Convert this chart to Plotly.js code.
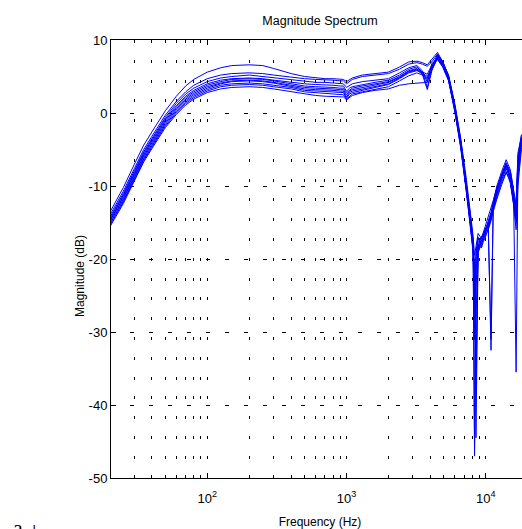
<!DOCTYPE html>
<html>
<head>
<meta charset="utf-8">
<script src="https://cdn.plot.ly/plotly-3.0.1.min.js"></script>
<style>
html,body{margin:0;padding:0;overflow:hidden;background:#fff;}
#chart{width:541px;height:529px;}
</style>
</head>
<body>
<div id="chart"></div>
<script>
// Frequency grid (Hz)
const freq = [20,25,30,35,40,50,60,70,80,100,125,150,200,250,300,400,500,600,700,800,900,950,1000,1050,1100,1300,1600,2000,2400,2800,3200,3500,3800,4100,4500,4900,5400,6000,6600,7200,7800,8100,8300,8500,8800,9300,9800,10400,10900,11300,12000,13000,14000,15000,15800,16500,17000,18000,19000,20000];

// Magnitude (dB) of each measured response
const mag1 = [-13.6,-10.2,-7.0,-4.4,-2.6,0.3,2.3,3.7,4.6,5.6,6.2,6.5,6.6,6.5,6.1,5.4,5.0,4.8,4.7,4.7,4.6,4.6,4.3,4.5,4.8,5.2,5.4,5.6,6.3,7.0,7.1,6.9,6.6,7.3,8.3,7.0,5.2,1.2,-3.5,-8.6,-14.0,-16.8,-19.5,-18.0,-16.5,-17.2,-15.8,-14.5,-13.2,-12.0,-10.2,-8.3,-6.8,-8.8,-11.2,-13.5,-6.0,-3.0,-2.6,-2.8];
const mag2 = [-14.0,-10.7,-7.6,-5.0,-3.2,-0.3,1.6,2.9,3.8,4.7,5.2,5.4,5.5,5.4,5.2,4.9,4.7,4.6,4.6,4.5,4.4,4.4,4.0,4.3,4.6,5.0,5.2,5.4,6.0,6.7,6.9,6.7,6.4,7.0,8.1,7.1,5.0,0.9,-3.8,-9.0,-14.4,-17.5,-46.0,-19.0,-17.2,-18.0,-16.3,-15.0,-13.8,-12.4,-10.6,-8.8,-7.2,-9.5,-12.0,-14.5,-7.0,-3.5,-3.0,-3.1];
const mag3 = [-14.3,-11.0,-7.9,-5.3,-3.5,-0.6,1.3,2.6,3.4,4.3,4.8,5.0,5.2,5.0,4.8,4.5,4.3,4.2,4.2,4.1,4.0,4.0,3.5,3.8,4.0,4.3,4.5,4.7,5.5,6.2,6.5,5.8,4.2,6.3,8.0,7.0,5.1,1.0,-3.6,-9.2,-14.6,-17.8,-21.0,-38.0,-18.2,-17.0,-16.8,-15.4,-14.2,-12.8,-11.0,-8.6,-7.0,-8.2,-10.8,-13.0,-6.5,-3.4,-2.8,-3.0];
const mag4 = [-14.5,-11.2,-8.1,-5.5,-3.7,-0.8,1.0,2.3,3.1,4.0,4.5,4.7,4.8,4.7,4.5,4.2,4.0,3.9,3.9,3.8,3.7,3.7,3.0,3.4,3.6,3.9,4.2,4.5,5.2,6.0,6.3,5.6,3.5,6.0,7.9,6.9,5.0,0.8,-3.9,-9.4,-14.8,-17.6,-47.0,-19.5,-17.0,-18.3,-16.0,-15.2,-31.0,-12.6,-10.4,-8.7,-7.4,-8.9,-11.5,-14.0,-7.5,-3.8,-3.2,-3.3];
const mag5 = [-14.7,-11.4,-8.3,-5.7,-3.9,-1.0,0.8,2.1,2.9,3.8,4.3,4.6,4.7,4.6,4.4,4.0,3.7,3.6,3.6,3.5,3.4,3.4,2.8,3.1,3.4,3.7,4.0,4.3,5.0,5.8,6.1,5.4,4.8,6.4,7.8,6.8,4.9,0.6,-4.0,-9.5,-15.0,-18.0,-22.0,-35.0,-18.5,-17.4,-16.5,-14.8,-13.6,-12.2,-10.0,-8.0,-6.4,-7.8,-10.5,-35.5,-8.0,-4.0,-3.4,-3.5];
const mag6 = [-14.8,-11.6,-8.5,-5.9,-4.1,-1.2,0.6,1.9,2.7,3.6,4.1,4.4,4.5,4.4,4.2,3.8,3.5,3.4,3.4,3.3,3.2,3.2,2.5,3.0,3.2,3.5,3.8,4.2,4.9,5.7,6.0,5.6,5.3,6.6,7.7,6.7,4.8,0.5,-4.2,-9.7,-15.2,-18.3,-31.0,-20.0,-17.8,-17.0,-16.2,-15.6,-14.5,-13.0,-11.2,-9.2,-7.6,-9.0,-12.0,-15.0,-9.0,-4.5,-3.8,-3.8];
const mag7 = [-15.0,-11.8,-8.7,-6.1,-4.3,-1.4,0.4,1.7,2.5,3.4,4.0,4.3,4.4,4.3,4.1,3.7,3.3,3.2,3.2,3.1,3.0,3.0,2.2,2.8,3.0,3.3,3.6,4.0,4.8,5.6,5.9,5.3,3.2,5.8,7.6,6.6,4.7,0.4,-4.3,-9.8,-15.3,-18.5,-25.0,-28.0,-19.0,-17.6,-16.8,-15.0,-32.5,-13.2,-10.8,-8.4,-6.9,-8.0,-10.2,-12.5,-5.5,-3.2,-2.7,-2.9];
const mag8 = [-15.2,-12.0,-8.9,-6.3,-4.5,-1.6,0.2,1.5,2.3,3.2,3.8,4.0,4.1,4.0,3.8,3.5,3.1,3.0,3.0,2.9,2.8,2.8,2.0,2.6,2.8,3.1,3.4,3.9,4.7,5.5,5.8,5.5,5.0,6.2,7.5,6.5,4.6,0.3,-4.5,-10.0,-15.5,-18.7,-28.0,-24.0,-18.0,-18.5,-17.0,-16.0,-14.8,-13.4,-11.5,-9.5,-8.0,-9.6,-12.5,-16.0,-10.0,-5.0,-4.0,-4.0];
const mag9 = [-15.4,-12.2,-9.1,-6.5,-4.7,-1.8,0.0,1.3,2.1,3.0,3.6,3.8,3.9,3.8,3.6,3.3,2.9,2.8,2.7,2.6,2.5,2.5,1.9,2.3,2.6,2.9,3.2,3.6,4.4,5.1,5.5,5.2,4.6,6.0,7.4,6.4,4.5,0.2,-4.6,-10.1,-15.6,-18.9,-20.5,-44.5,-19.2,-17.8,-16.6,-15.2,-14.0,-12.8,-10.6,-8.9,-7.2,-8.6,-11.0,-13.8,-7.2,-3.6,-3.1,-3.2];
const mag10 = [-15.6,-12.4,-9.3,-6.7,-4.9,-2.0,-0.2,1.1,1.9,2.8,3.3,3.5,3.6,3.5,3.3,2.9,2.6,2.4,2.3,2.3,2.2,2.2,1.8,2.1,2.4,2.8,3.1,3.3,3.8,4.0,4.1,4.1,4.2,6.8,7.3,6.3,4.4,0.1,-4.8,-10.3,-15.8,-19.0,-23.0,-21.0,-18.8,-17.2,-17.4,-15.8,-14.4,-13.6,-11.8,-9.8,-8.2,-9.2,-11.8,-14.5,-8.5,-4.2,-3.5,-3.6];

const curves = [mag1,mag2,mag3,mag4,mag5,mag6,mag7,mag8,mag9,mag10];

// Axis ticks
const xMajorVals = [100,1000,10000];
const xMajorText = ['10<sup>2</sup>','10<sup>3</sup>','10<sup>4</sup>'];
const xMinorVals = [30,40,50,60,70,80,90,200,300,400,500,600,700,800,900,2000,3000,4000,5000,6000,7000,8000,9000,20000];
const yTickVals = [-50,-40,-30,-20,-10,0,10];
const yTickText = ['-50','-40','-30','-20','-10','0','10'];

const traces = curves.map(function(c){
  return {x: freq, y: c, type:'scatter', mode:'lines',
          line:{color:'#0000ff', width:1}, hoverinfo:'skip', showlegend:false};
});

const FONT = 'Liberation Sans, Arial, sans-serif';
const layout = {
  width: 541, height: 529, autosize:false,
  margin:{l:111, r:12, t:40, b:51, pad:0},
  paper_bgcolor:'#fff', plot_bgcolor:'#fff',
  font:{family:FONT, color:'#000', size:13},
  title:{text:'Magnitude Spectrum', font:{family:FONT, size:12.5, color:'#000'},
         xref:'paper', x:0.5, xanchor:'center', yref:'container', y:1-21/529, yanchor:'middle'},
  xaxis:{type:'log', range:[1.309, 4.31], automargin:false,
    tickmode:'array', tickvals:xMajorVals, ticktext:xMajorText,
    ticks:'inside', ticklen:5, tickwidth:1, tickcolor:'#000', ticklabelstandoff:8,
    showline:true, linecolor:'#000', linewidth:1, mirror:'ticks',
    showgrid:true, gridcolor:'#000', gridwidth:1, griddash:'3px,16.8px',
    zeroline:false, tickfont:{family:FONT, size:13, color:'#000'},
    minor:{tickmode:'array', tickvals:xMinorVals, ticks:'inside', ticklen:3, tickcolor:'#000',
           showgrid:true, gridcolor:'#000', gridwidth:1, griddash:'3px,16.8px'},
    title:{text:'Frequency (Hz)', font:{family:FONT, size:12, color:'#000'}, standoff:13}
  },
  yaxis:{range:[-50,10], automargin:false,
    tickmode:'array', tickvals:yTickVals, ticktext:yTickText,
    ticks:'inside', ticklen:5, tickwidth:1, tickcolor:'#000',
    showline:true, linecolor:'#000', linewidth:1, mirror:'ticks',
    showgrid:true, gridcolor:'#000', gridwidth:1, griddash:'4px,15px',
    zeroline:false, tickfont:{family:FONT, size:13, color:'#000'}
  },
  annotations:[
    {text:'Magnitude (dB)', textangle:-90, xref:'paper', yref:'paper', x:0, xshift:-31,
     y:(478-276)/438, xanchor:'center', yanchor:'middle', showarrow:false,
     font:{family:FONT, size:12, color:'#000'}},
    {text:'a', xref:'paper', yref:'paper', x:0, xshift:-93, y:-0.08, yanchor:'top', xanchor:'center',
     showarrow:false, font:{family:'Liberation Serif, serif', size:22, color:'#000'}},
    {text:'|', xref:'paper', yref:'paper', x:0, xshift:-77, y:-0.09, yanchor:'top', xanchor:'center',
     showarrow:false, font:{family:'Liberation Serif, serif', size:22, color:'#000'}}
  ]
};

Plotly.newPlot('chart', traces, layout, {staticPlot:true, displayModeBar:false});
</script>
</body>
</html>
